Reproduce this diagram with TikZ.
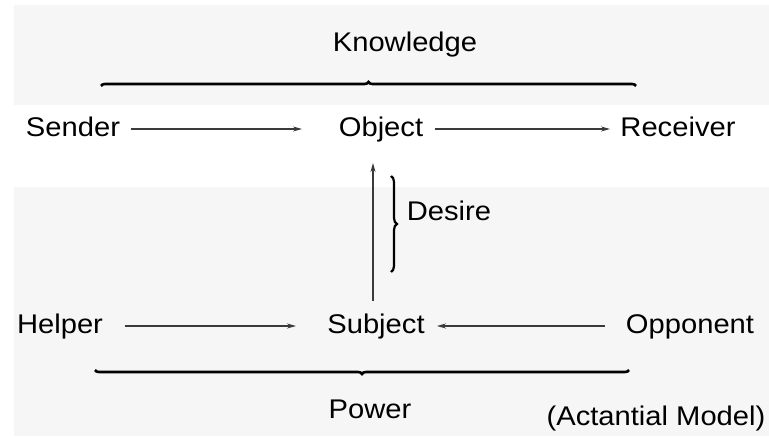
\documentclass[tikz,border=0pt]{standalone}
\usepackage{fontspec}
\setmainfont[FakeStretch=1.08]{Liberation Sans}
\usetikzlibrary{arrows.meta,decorations.pathreplacing}
\definecolor{bandgray}{HTML}{F7F6F7}
\definecolor{arrowgray}{HTML}{3A3A3A}
\tikzset{
  lbl/.style={font=\fontsize{27}{32}\selectfont, text=black, inner sep=0pt, anchor=base},
  conn/.style={draw=arrowgray, line width=1.2pt, -{Stealth[length=9pt,width=5pt]}},
  bigbrace/.style={decorate, decoration={brace, amplitude=4pt}, line width=2.6pt, black},
}
\begin{document}
\begin{tikzpicture}[x=1pt,y=-1pt]
\useasboundingbox (0,0) rectangle (769,438);
\fill[bandgray] (14,5) rectangle (769,105);
\fill[bandgray] (14,187) rectangle (769,436);

\node[lbl] (know) at (405,52) {Knowledge};
\node[lbl] (send) at (73,137) {Sender};
\node[lbl] (obj) at (381,137) {Object};
\node[lbl] (recv) at (678,137) {Receiver};
\node[lbl] (help) at (60,334) {Helper};
\node[lbl] (subj) at (376,334) {Subject};
\node[lbl] (opp) at (690,334) {Opponent};
\node[lbl] (desire) at (449,221) {Desire};
\node[lbl] (power) at (370,418) {Power};
\node[lbl] (model) at (656,425) {(Actantial Model)};

\coordinate (kb1) at (101,86);
\coordinate (kb2) at (636,86);
\coordinate (pb1) at (95,370);
\coordinate (pb2) at (629,370);
\coordinate (db1) at (391,176);
\coordinate (db2) at (391,272);

\draw[bigbrace] (kb1) -- (kb2);
\draw[bigbrace] (pb2) -- (pb1);
\draw[decorate, decoration={brace, amplitude=6pt}, line width=2.2pt] (db1) -- (db2);

\draw[conn] (131,129) coordinate (s1) -- (302,129) coordinate (s2);
\draw[conn] (435,129) coordinate (o1) -- (610,129) coordinate (o2);
\draw[conn] (125,326) coordinate (h1) -- (296,326) coordinate (h2);
\draw[conn] (605,326) coordinate (p1) -- (437,326) coordinate (p2);
\draw[conn] (373,301) coordinate (v1) -- (373,163) coordinate (v2);
\end{tikzpicture}
\end{document}
